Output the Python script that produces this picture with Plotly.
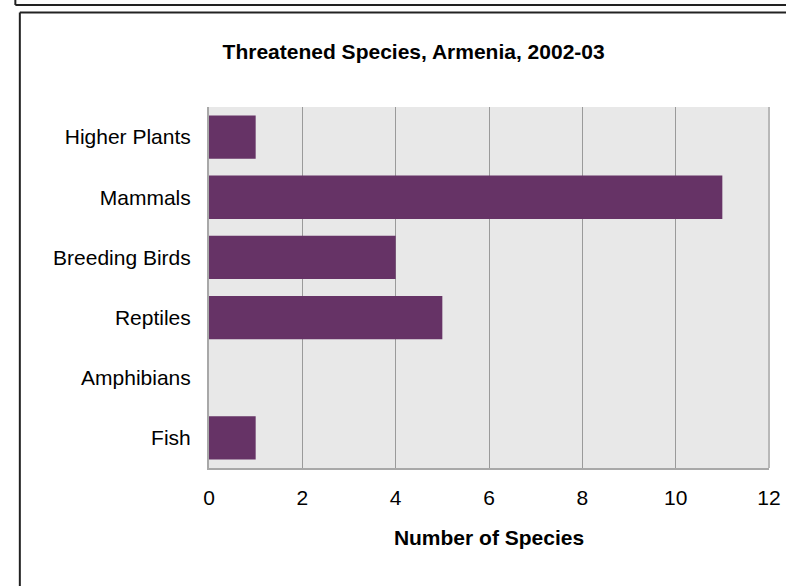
import plotly.graph_objects as go

categories = ["Higher Plants", "Mammals", "Breeding Birds", "Reptiles", "Amphibians", "Fish"]
values = [1, 11, 4, 5, 0, 1]
x_ticks = [0, 2, 4, 6, 8, 10, 12]

W, H = 786, 586
L, R, T, B = 208.5, 16.5, 107, 118
PW, PH = W - L - R, H - T - B

def px(x):
    return (x - L) / PW

def py(y):
    return 1 - (y - T) / PH

FONT = "Liberation Sans, Arial, sans-serif"
FS = 21

fig = go.Figure(go.Bar(
    x=values, y=categories, orientation="h",
    marker=dict(color="#663366", line=dict(width=0)),
    width=0.72,
))

shapes = []
frame_col = "#222222"
# outer partial frame
shapes.append(dict(type="line", xref="paper", yref="paper", x0=px(14.5), x1=px(800), y0=py(5), y1=py(5), line=dict(color=frame_col, width=2)))
shapes.append(dict(type="line", xref="paper", yref="paper", x0=px(14.5), x1=px(14.5), y0=py(-5), y1=py(5), line=dict(color=frame_col, width=2)))
# inner frame
shapes.append(dict(type="line", xref="paper", yref="paper", x0=px(19), x1=px(800), y0=py(12.5), y1=py(12.5), line=dict(color=frame_col, width=2)))
shapes.append(dict(type="line", xref="paper", yref="paper", x0=px(19), x1=px(19), y0=py(12.5), y1=py(600), line=dict(color=frame_col, width=2)))
# right border of plot
shapes.append(dict(type="line", xref="paper", yref="paper", x0=1, x1=1, y0=0, y1=1, line=dict(color="#b8b8b8", width=2)))

fig.update_layout(
    width=W, height=H,
    margin=dict(l=L, r=R, t=T, b=B, autoexpand=False),
    paper_bgcolor="white",
    plot_bgcolor="#e8e8e8",
    font=dict(family=FONT, size=FS, color="black"),
    showlegend=False,
    title=dict(
        text="<b>Threatened Species, Armenia, 2002-03</b>",
        x=px(413.5), xref="paper", xanchor="center",
        y=1 - 52 / H, yref="container", yanchor="middle",
        font=dict(family=FONT, size=FS, color="black"),
    ),
    xaxis=dict(
        range=[0, 12], tickvals=x_ticks, ticktext=[str(v) for v in x_ticks],
        showgrid=True, gridcolor="#9a9a9a", gridwidth=1,
        showline=True, linecolor="#a8a8a8", linewidth=2,
        zeroline=False, ticks="", ticklabelstandoff=10,
        tickfont=dict(family=FONT, size=FS, color="black"),
        title=dict(text="<b>Number of Species</b>", standoff=22,
                   font=dict(family=FONT, size=FS, color="black")),
        automargin=False,
        fixedrange=True,
    ),
    yaxis=dict(
        autorange="reversed",
        showgrid=False,
        showline=True, linecolor="#a8a8a8", linewidth=2,
        ticks="", ticklabelstandoff=12,
        tickfont=dict(family=FONT, size=FS, color="black"),
        automargin=False,
        fixedrange=True,
    ),
    shapes=shapes,
)

fig.write_html(
    "out.html",
    config={"displayModeBar": False, "staticPlot": True},
    post_script="document.body.style.margin='0px';document.body.style.padding='0px';",
)
